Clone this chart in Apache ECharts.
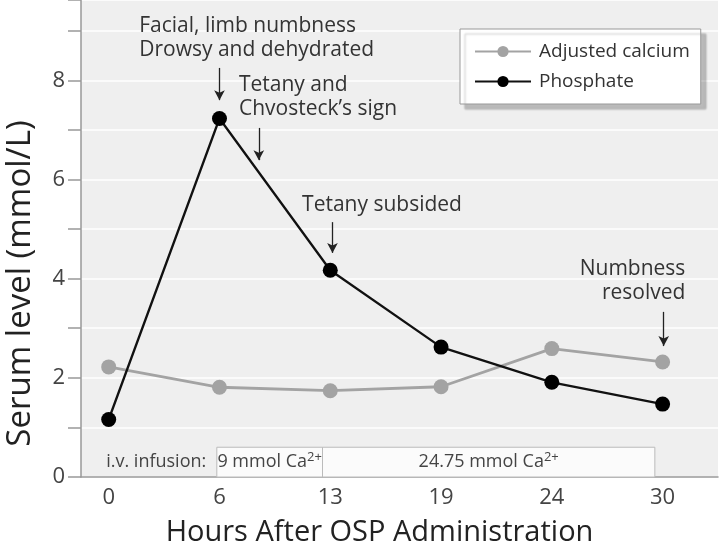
<!DOCTYPE html>
<html><head><meta charset="utf-8">
<script src="https://cdn.jsdelivr.net/npm/echarts@6/dist/echarts.min.js"></script>
<style>html,body{margin:0;padding:0;background:#fff}#c{width:720px;height:551px}</style>
</head><body><div id="c"></div>
<script>
const hours = ['0','6','13','19','24','30'];
const calcium = [2.22, 1.81, 1.74, 1.82, 2.59, 2.32];
const phosphate = [1.16, 7.23, 4.17, 2.62, 1.91, 1.47];
const yTicks = [0, 2, 4, 6, 8];
const annotations = [
  'Facial, limb numbness\nDrowsy and dehydrated',
  'Tetany and\nChvosteck\u2019s sign',
  'Tetany subsided',
  'Numbness\nresolved'
];
const infusionLabel = 'i.v. infusion:';
const infusions = ['9 mmol Ca', '24.75 mmol Ca'];

const FONT = 'Open Sans';
const TXT = '#333';
const idx = hours.map((_, i) => i);

const textStyle = {fontFamily: FONT, fontSize: 21, color: TXT, lineHeight: 24};
function note(text, x, y, align, size) {
  return {coord: [x, y], symbol: 'circle', symbolSize: 1, itemStyle: {color: 'rgba(0,0,0,0)'},
    label: Object.assign({show: true, formatter: text, position: [0, 0], align: align || 'left', verticalAlign: 'middle'},
      textStyle, size ? {fontSize: size, color: '#444'} : {})};
}
function arrow(x, y1, y2) { return [{coord: [x, y1]}, {coord: [x, y2]}]; }

const chart = echarts.init(document.getElementById('c'));
chart.setOption({
  animation: false,
  textStyle: {fontFamily: FONT},
  grid: {left: 81, right: 2, top: 0, bottom: 74, show: true, backgroundColor: '#efefef', borderWidth: 0,
    containLabel: false, outerBoundsMode: 'none'},
  legend: {
    left: 460, top: 29, orient: 'vertical', padding: [13, 11, 13, 14], itemGap: 11,
    itemWidth: 56, itemHeight: 14,
    backgroundColor: '#fff', borderColor: '#999', borderWidth: 1,
    shadowColor: 'rgba(0,0,0,0.22)', shadowOffsetX: 5, shadowOffsetY: 5, shadowBlur: 2,
    textStyle: {fontFamily: FONT, fontSize: 19, color: TXT, padding: [0, 0, 0, 3]},
    data: ['Adjusted calcium', 'Phosphate']
  },
  xAxis: {
    type: 'value', min: -0.25, max: 5.5,
    name: 'Hours After OSP Administration', nameLocation: 'middle', nameGap: 41,
    nameTextStyle: {fontFamily: FONT, fontSize: 29, color: '#222', padding: [0, 40, 0, 0]},
    axisLine: {show: true, onZero: false, lineStyle: {color: '#999', width: 1.5}},
    axisTick: {show: false},
    splitLine: {show: false},
    axisLabel: {customValues: idx, formatter: v => hours[Math.round(v)], fontSize: 22, color: '#444', margin: 10, fontFamily: FONT}
  },
  yAxis: {
    type: 'value', min: 0, max: 9.62, interval: 1,
    name: 'Serum level (mmol/L)', nameLocation: 'middle', nameGap: 44,
    nameTextStyle: {fontFamily: FONT, fontSize: 33, color: '#222', padding: [0, 90, 0, 0]},
    axisLine: {show: true, onZero: false, lineStyle: {color: '#999', width: 1.5}},
    axisTick: {show: true, length: 13, lineStyle: {color: '#999', width: 1.5}},
    splitLine: {show: true, lineStyle: {color: '#fff', width: 1.5}},
    axisLabel: {formatter: v => yTicks.includes(v) ? String(v) : '', fontSize: 22, color: '#444', margin: 16, fontFamily: FONT}
  },
  series: [
    {
      name: 'Adjusted calcium', type: 'line', data: idx.map(i => [i, calcium[i]]),
      symbol: 'circle', symbolSize: 15, z: 3,
      lineStyle: {color: '#a3a3a3', width: 2.8}, itemStyle: {color: '#a3a3a3'}
    },
    {
      name: 'Phosphate', type: 'line', data: idx.map(i => [i, phosphate[i]]),
      symbol: 'circle', symbolSize: 15, z: 4,
      lineStyle: {color: '#111', width: 2.3}, itemStyle: {color: '#000'},
      markPoint: {
        silent: true,
        data: [
          note(annotations[0], 0.28, 8.84),
          note(annotations[1], 1.18, 7.66),
          note(annotations[2], 1.75, 5.48),
          note(annotations[3], 5.21, 3.95, 'right'),
          note(infusionLabel, 0.885, 0.29, 'right', 18)
        ]
      },
      markLine: {
        silent: true, symbol: ['none', 'arrow'], symbolSize: [8, 10],
        lineStyle: {color: '#222', width: 1.3, type: 'solid'}, label: {show: false},
        data: [arrow(1.0, 8.25, 7.6), arrow(1.355, 7.04, 6.39), arrow(2.02, 5.14, 4.52), arrow(5.01, 3.33, 2.64)]
      },
      markArea: {
        silent: true,
        itemStyle: {color: '#fbfbfb', borderColor: '#bbb', borderWidth: 1},
        label: {show: true, position: 'inside', fontFamily: FONT, fontSize: 18, color: '#444',
          rich: {sup: {fontSize: 13, color: '#444', verticalAlign: 'top', padding: [0, 0, 9, 0]}}},
        data: [
          [{coord: [0.976, 0], name: infusions[0], label: {formatter: infusions[0] + '{sup|2+}'}}, {coord: [1.93, 0.6]}],
          [{coord: [1.93, 0], name: infusions[1], label: {formatter: infusions[1] + '{sup|2+}'}}, {coord: [4.93, 0.6]}]
        ]
      }
    }
  ]
});
</script>
</body></html>
